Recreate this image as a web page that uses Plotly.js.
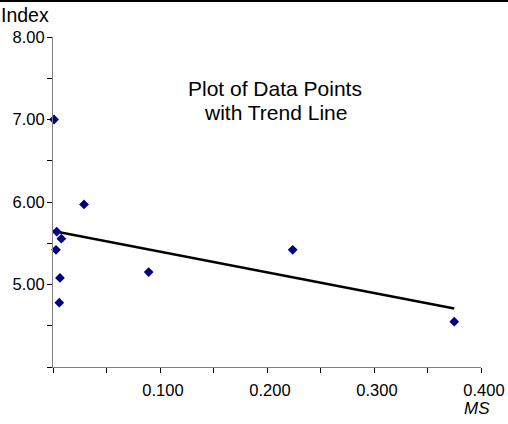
<!DOCTYPE html>
<html>
<head>
<meta charset="utf-8">
<script src="https://cdn.plot.ly/plotly-3.0.1.min.js"></script>
<style>
  html, body { margin: 0; padding: 0; background: #fff; }
  #chart { position: absolute; left: 0; top: 0; width: 508px; height: 424px; }
  #topline { position: absolute; left: 0; top: 0; width: 508px; height: 0; border-top: 2.5px solid #000; z-index: 5; }
</style>
</head>
<body>
<div id="chart"></div>
<div id="topline"></div>
<script>
// Data
const msValues = [0.001, 0.0035, 0.0028, 0.0078, 0.029, 0.0065, 0.0059, 0.0894, 0.224, 0.375];
const indexValues = [7.00, 5.64, 5.42, 5.555, 5.97, 5.08, 4.78, 5.15, 5.42, 4.55];
const trendX = [0.0, 0.375];
const trendY = [5.65, 4.71];
const xTickVals = [0, 0.05, 0.1, 0.15, 0.2, 0.25, 0.3, 0.35, 0.4];
const xTickText = ['', '', '0.100', '', '0.200', '', '0.300', '', '0.400'];
const yTickVals = [4, 4.5, 5, 5.5, 6, 6.5, 7, 7.5, 8];
const yTickText = ['', '', '5.00', '', '6.00', '', '7.00', '', '8.00'];
const titleLines = ['Plot of Data Points', 'with Trend Line'];
const xTitle = 'MS';
const yTitle = 'Index';

const FONT = 'Arial, "Liberation Sans", sans-serif';
const L = 53, R = 27, T = 37, B = 57;
const W = 508, H = 424;
const pw = W - L - R, ph = H - T - B;
const px = (x) => (x - L) / pw;
const py = (y) => (H - B - y) / ph;

const traces = [
  {
    x: trendX, y: trendY, type: 'scatter', mode: 'lines',
    line: { color: '#000000', width: 2.5 },
    hoverinfo: 'skip', showlegend: false, cliponaxis: false
  },
  {
    x: msValues, y: indexValues, type: 'scatter', mode: 'markers',
    marker: { symbol: 'diamond', size: 7.5, color: '#000080', line: { width: 0 } },
    showlegend: false, cliponaxis: false
  }
];

const layout = {
  width: W, height: H,
  margin: { l: L, r: R, t: T, b: B, pad: 0 },
  paper_bgcolor: '#ffffff', plot_bgcolor: '#ffffff',
  font: { family: FONT, color: '#000', size: 16 },
  showlegend: false,
  xaxis: {
    range: [0, 0.4], tickmode: 'array', tickvals: xTickVals, ticktext: xTickText,
    showgrid: false, zeroline: false, showline: true, linecolor: '#808080', linewidth: 1,
    ticks: 'outside', ticklen: 5, tickwidth: 1, tickcolor: '#000',
    tickfont: { family: FONT, size: 16.5, color: '#000' },
    ticklabelstandoff: 3, ticklabelshift: 3,
    fixedrange: true
  },
  yaxis: {
    range: [4, 8], tickmode: 'array', tickvals: yTickVals, ticktext: yTickText,
    showgrid: false, zeroline: false, showline: true, linecolor: '#808080', linewidth: 1,
    ticks: 'outside', ticklen: 5, tickwidth: 1, tickcolor: '#000',
    tickfont: { family: FONT, size: 16.5, color: '#000' },
    ticklabelstandoff: -1,
    fixedrange: true
  },
  annotations: [
    { text: titleLines[0], xref: 'paper', yref: 'paper', x: px(275), y: py(88),
      xanchor: 'center', yanchor: 'middle', showarrow: false, font: { family: FONT, size: 21, color: '#000' } },
    { text: titleLines[1], xref: 'paper', yref: 'paper', x: px(275), y: py(112),
      xanchor: 'center', yanchor: 'middle', showarrow: false, font: { family: FONT, size: 21, color: '#000' } },
    { text: yTitle, xref: 'paper', yref: 'paper', x: px(-1), y: py(15),
      xanchor: 'left', yanchor: 'middle', showarrow: false, font: { family: FONT, size: 19.5, color: '#000' } },
    { text: '<i>' + xTitle + '</i>', xref: 'paper', yref: 'paper', x: px(477), y: py(408),
      xanchor: 'center', yanchor: 'middle', showarrow: false, font: { family: FONT, size: 17, color: '#000' } }
  ]
};

Plotly.newPlot('chart', traces, layout, { displayModeBar: false, staticPlot: true });
</script>
</body>
</html>
